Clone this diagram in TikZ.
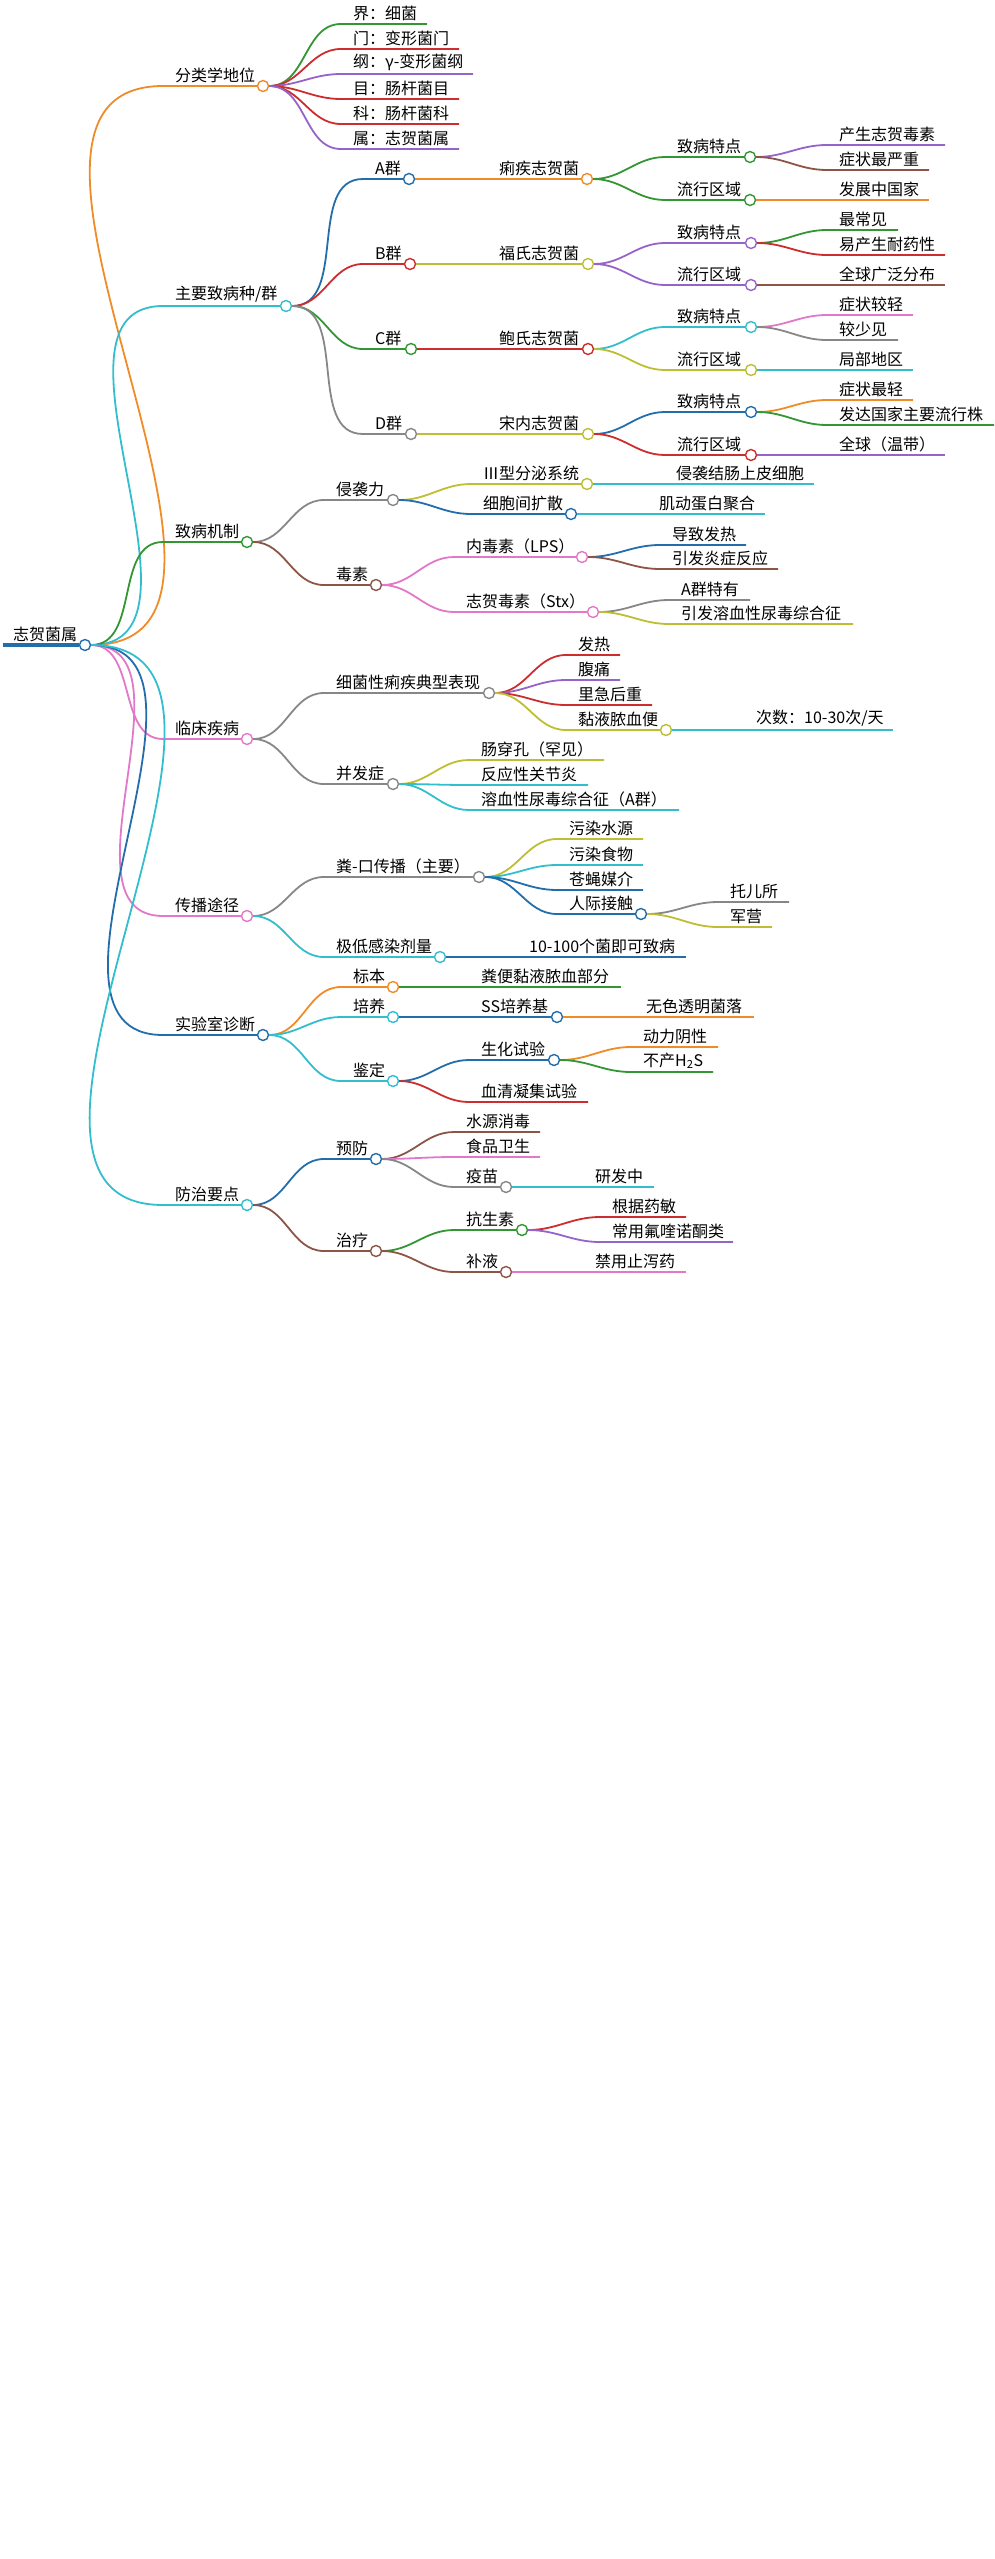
\documentclass[tikz,border=0pt]{standalone}
\usepackage{fontspec}
\setmainfont{Noto Sans CJK SC}
\usetikzlibrary{calc,positioning}
\definecolor{cOrange}{RGB}{240,140,40}
\definecolor{cCyan}{RGB}{50,190,205}
\definecolor{cGreen}{RGB}{50,150,50}
\definecolor{cPink}{RGB}{225,120,200}
\definecolor{cBlue}{RGB}{35,110,170}
\definecolor{cRed}{RGB}{205,45,45}
\definecolor{cPurple}{RGB}{150,100,200}
\definecolor{cBrown}{RGB}{140,85,70}
\definecolor{cGray}{RGB}{135,135,135}
\definecolor{cYellow}{RGB}{190,190,50}
\tikzset{lbl/.style={anchor=south west, inner xsep=0pt, inner ysep=3pt, font=\fontsize{16}{18}\selectfont}}
\tikzset{dot/.style={circle, draw, fill=white, line width=1.4pt, minimum size=11pt, inner sep=0pt}}
\tikzset{branch/.style={line width=1.8pt}}

% leaf: parent, name, text x, y, end x, colour, text
\newcommand\twig[7]{%
\node (#2) [lbl] at (#3,#4) {#7};
\coordinate (#2-s) at (#3-12,#4);
\coordinate (#2-e) at (#5,#4);
\draw [branch, #6] (#1.east) to[out=0,in=180] (#2-s) -- (#2-e);}
% inner node: parent, name, text x, y, circle x, colour, text
\newcommand\knot[7]{%
\node (#2) [lbl] at (#3,#4) {#7};
\coordinate (#2-s) at (#3-12,#4);
\node (#2-c) [dot, draw=#6] at (#5,#4) {};
\draw [branch, #6] (#1.east) to[out=0,in=180] (#2-s) -- (#2-c);}

\begin{document}
\begin{tikzpicture}[x=1pt, y=-1pt]
\useasboundingbox (0,0) rectangle (995,2559);
% Root
\node (root) [lbl] at (13,645) {志贺菌属};
\coordinate (root-s) at (3,645);
\node (root-c) [dot, draw=cBlue] at (85,645) {};
\draw [line width=4pt, cBlue] (root-s) -- (root-c);

% Taxonomy
\knot{root-c}{tax}{175}{86}{263}{cOrange}{分类学地位}
\twig{tax-c}{t1}{353}{24}{427}{cGreen}{界：细菌}
\twig{tax-c}{t2}{353}{49}{459}{cRed}{门：变形菌门}
\twig{tax-c}{t3}{353}{74}{473}{cPurple}{纲：γ-变形菌纲}
\twig{tax-c}{t4}{353}{99}{459}{cRed}{目：肠杆菌目}
\twig{tax-c}{t5}{353}{124}{459}{cRed}{科：肠杆菌科}
\twig{tax-c}{t6}{353}{149}{459}{cPurple}{属：志贺菌属}

% Species / groups
\knot{root-c}{grp}{175}{306}{286}{cCyan}{主要致病种/群}
\knot{grp-c}{ga}{375}{179}{409}{cBlue}{A群}
\knot{grp-c}{gb}{375}{264}{410}{cRed}{B群}
\knot{grp-c}{gc}{375}{349}{411}{cGreen}{C群}
\knot{grp-c}{gd}{375}{434}{411}{cGray}{D群}
\knot{ga-c}{sa}{499}{179}{587}{cOrange}{痢疾志贺菌}
\knot{gb-c}{sb}{499}{264}{588}{cYellow}{福氏志贺菌}
\knot{gc-c}{sc}{499}{349}{588}{cRed}{鲍氏志贺菌}
\knot{gd-c}{sd}{499}{434}{588}{cYellow}{宋内志贺菌}
\knot{sa-c}{pa}{677}{157}{750}{cGreen}{致病特点}
\knot{sa-c}{ra}{677}{200}{750}{cGreen}{流行区域}
\twig{pa-c}{pa1}{839}{145}{945}{cPurple}{产生志贺毒素}
\twig{pa-c}{pa2}{839}{170}{929}{cBrown}{症状最严重}
\twig{ra-c}{ra1}{839}{200}{929}{cOrange}{发展中国家}
\knot{sb-c}{pb}{677}{243}{751}{cPurple}{致病特点}
\knot{sb-c}{rb}{677}{285}{751}{cPurple}{流行区域}
\twig{pb-c}{pb1}{839}{230}{898}{cGreen}{最常见}
\twig{pb-c}{pb2}{839}{255}{945}{cRed}{易产生耐药性}
\twig{rb-c}{rb1}{839}{285}{945}{cBrown}{全球广泛分布}
\knot{sc-c}{pc}{677}{327}{751}{cCyan}{致病特点}
\knot{sc-c}{rc}{677}{370}{751}{cYellow}{流行区域}
\twig{pc-c}{pc1}{839}{315}{913}{cPink}{症状较轻}
\twig{pc-c}{pc2}{839}{340}{898}{cGray}{较少见}
\twig{rc-c}{rc1}{839}{370}{913}{cCyan}{局部地区}
\knot{sd-c}{pd}{677}{412}{751}{cBlue}{致病特点}
\knot{sd-c}{rd}{677}{455}{751}{cRed}{流行区域}
\twig{pd-c}{pd1}{839}{400}{913}{cOrange}{症状最轻}
\twig{pd-c}{pd2}{839}{425}{994}{cGreen}{发达国家主要流行株}
\twig{rd-c}{rd1}{839}{455}{945}{cPurple}{全球（温带）}

% Pathogenesis
\knot{root-c}{mech}{175}{542}{247}{cGreen}{致病机制}
\knot{mech-c}{inv}{336}{500}{393}{cGray}{侵袭力}
\knot{mech-c}{tox}{336}{585}{376}{cBrown}{毒素}
\knot{inv-c}{t3ss}{483}{484}{587}{cYellow}{Ⅲ型分泌系统}
\knot{inv-c}{spread}{483}{514}{571}{cBlue}{细胞间扩散}
\twig{t3ss-c}{t3ss1}{676}{484}{814}{cCyan}{侵袭结肠上皮细胞}
\twig{spread-c}{spread1}{659}{514}{765}{cCyan}{肌动蛋白聚合}
\knot{tox-c}{lps}{466}{557}{582}{cPink}{内毒素（LPS）}
\knot{tox-c}{stx}{466}{612}{593}{cPink}{志贺毒素（Stx）}
\twig{lps-c}{lps1}{672}{545}{746}{cBlue}{导致发热}
\twig{lps-c}{lps2}{672}{569}{778}{cBrown}{引发炎症反应}
\twig{stx-c}{stx1}{681}{600}{750}{cGray}{A群特有}
\twig{stx-c}{stx2}{681}{624}{853}{cYellow}{引发溶血性尿毒综合征}

% Clinical
\knot{root-c}{clin}{175}{739}{247}{cPink}{临床疾病}
\knot{clin-c}{dys}{336}{693}{489}{cGray}{细菌性痢疾典型表现}
\twig{dys-c}{dys1}{578}{655}{620}{cRed}{发热}
\twig{dys-c}{dys2}{578}{680}{620}{cPurple}{腹痛}
\twig{dys-c}{dys3}{578}{705}{652}{cRed}{里急后重}
\knot{dys-c}{stool}{578}{730}{666}{cYellow}{黏液脓血便}
\twig{stool-c}{stool1}{756}{730}{893}{cCyan}{次数：10-30次/天}
\knot{clin-c}{comp}{336}{784}{393}{cGray}{并发症}
\twig{comp-c}{comp1}{481}{760}{604}{cYellow}{肠穿孔（罕见）}
\twig{comp-c}{comp2}{481}{785}{588}{cCyan}{反应性关节炎}
\twig{comp-c}{comp3}{481}{810}{679}{cCyan}{溶血性尿毒综合征（A群）}

% Transmission
\knot{root-c}{trans}{175}{916}{247}{cPink}{传播途径}
\knot{trans-c}{fo}{336}{877}{479}{cGray}{粪-口传播（主要）}
\twig{fo-c}{fo1}{569}{839}{643}{cYellow}{污染水源}
\twig{fo-c}{fo2}{569}{865}{643}{cCyan}{污染食物}
\twig{fo-c}{fo3}{569}{890}{643}{cBlue}{苍蝇媒介}
\knot{fo-c}{contact}{569}{914}{641}{cBlue}{人际接触}
\twig{contact-c}{contact1}{730}{902}{789}{cGray}{托儿所}
\twig{contact-c}{contact2}{730}{927}{772}{cYellow}{军营}
\knot{trans-c}{dose}{336}{957}{440}{cCyan}{极低感染剂量}
\twig{dose-c}{dose1}{529}{957}{686}{cBlue}{10-100个菌即可致病}

% Laboratory
\knot{root-c}{lab}{175}{1035}{263}{cBlue}{实验室诊断}
\knot{lab-c}{spec}{353}{987}{393}{cOrange}{标本}
\twig{spec-c}{spec1}{481}{987}{621}{cGreen}{粪便黏液脓血部分}
\knot{lab-c}{cult}{353}{1017}{393}{cCyan}{培养}
\knot{cult-c}{ss}{481}{1017}{557}{cBlue}{SS培养基}
\twig{ss-c}{ss1}{646}{1017}{754}{cOrange}{无色透明菌落}
\knot{lab-c}{ident}{353}{1081}{393}{cCyan}{鉴定}
\knot{ident-c}{bio}{481}{1060}{554}{cBlue}{生化试验}
\twig{bio-c}{bio1}{643}{1047}{718}{cOrange}{动力阴性}
\twig{bio-c}{bio2}{643}{1072}{713}{cGreen}{不产H\textsubscript{2}S}
\twig{ident-c}{sero}{481}{1102}{588}{cRed}{血清凝集试验}

% Control
\knot{root-c}{ctrl}{175}{1205}{247}{cCyan}{防治要点}
\knot{ctrl-c}{prev}{336}{1159}{376}{cBlue}{预防}
\twig{prev-c}{prev1}{466}{1132}{540}{cBrown}{水源消毒}
\twig{prev-c}{prev2}{466}{1157}{540}{cPink}{食品卫生}
\knot{prev-c}{vac}{466}{1187}{506}{cGray}{疫苗}
\twig{vac-c}{vac1}{595}{1187}{654}{cCyan}{研发中}
\knot{ctrl-c}{treat}{336}{1251}{376}{cBrown}{治疗}
\knot{treat-c}{abx}{466}{1230}{522}{cGreen}{抗生素}
\twig{abx-c}{abx1}{612}{1217}{686}{cRed}{根据药敏}
\twig{abx-c}{abx2}{612}{1242}{733}{cPurple}{常用氟喹诺酮类}
\knot{treat-c}{fluid}{466}{1272}{506}{cBrown}{补液}
\twig{fluid-c}{fluid1}{595}{1272}{686}{cPink}{禁用止泻药}
\end{tikzpicture}
\end{document}
